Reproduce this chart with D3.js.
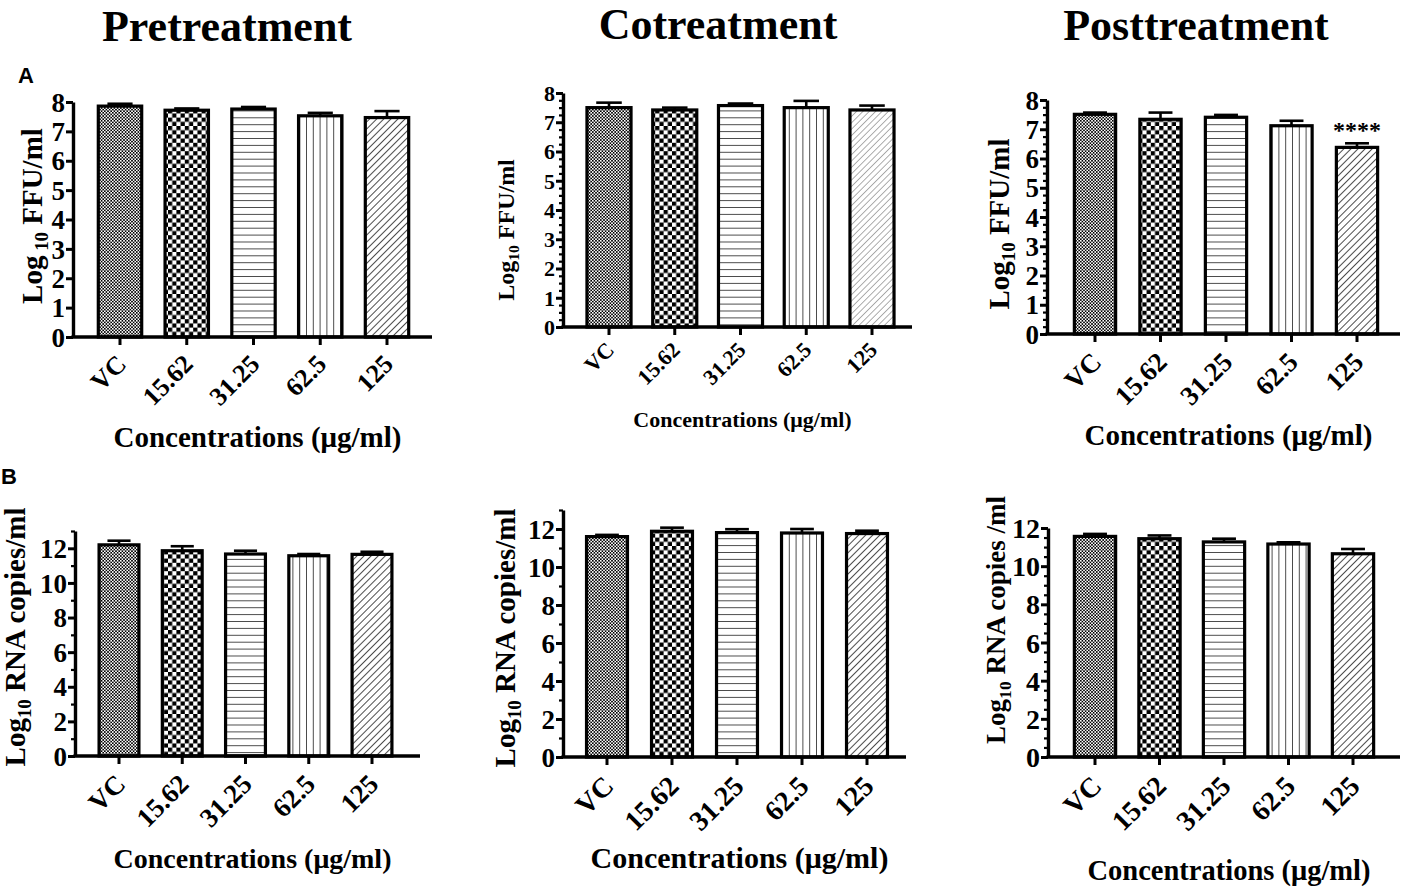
<!DOCTYPE html>
<html>
<head>
<meta charset="utf-8">
<script src="https://cdn.jsdelivr.net/npm/d3@7"></script>
<style>
  body { margin: 0; background: #fff; }
  text { font-family: "Liberation Serif", "Times New Roman", serif; font-weight: bold; fill: #000; }
  .panelLetter { font-family: "Liberation Sans", Arial, sans-serif; }
</style>
</head>
<body>
<div id="chart"></div>
<script>
// categories (concentrations)
var categories = ["VC", "15.62", "31.25", "62.5", "125"];

// row A: Log10 FFU/ml
var preFfu = [7.86, 7.72, 7.76, 7.53, 7.47];
var preFfuErr = [0.08, 0.06, 0.07, 0.10, 0.22];
var coFfu = [7.50, 7.42, 7.57, 7.50, 7.42];
var coFfuErr = [0.17, 0.08, 0.07, 0.23, 0.15];
var postFfu = [7.51, 7.34, 7.41, 7.12, 6.38];
var postFfuErr = [0.06, 0.23, 0.08, 0.17, 0.14];
var postFfuSig = ["", "", "", "", "****"];

// row B: Log10 RNA copies/ml
var preRna = [12.20, 11.86, 11.67, 11.57, 11.65];
var preRnaErr = [0.24, 0.26, 0.19, 0.10, 0.15];
var coRna = [11.60, 11.88, 11.81, 11.79, 11.76];
var coRnaErr = [0.09, 0.19, 0.18, 0.21, 0.15];
var postRna = [11.56, 11.44, 11.27, 11.16, 10.65];
var postRnaErr = [0.13, 0.17, 0.17, 0.09, 0.25];

// tick labels
var ffuTicks = [0, 1, 2, 3, 4, 5, 6, 7, 8];
var rnaTicks = [0, 2, 4, 6, 8, 10, 12];

var titles = ["Pretreatment", "Cotreatment", "Posttreatment"];
var xTitle = "Concentrations (\u03bcg/ml)";

var width = 1403;
var height = 890;

var svg = d3.select("#chart")
  .append("svg")
  .attr("width", width)
  .attr("height", height);

// fill patterns
var defs = svg.append("defs");

function checker(id, cell) {
  var p = defs.append("pattern")
    .attr("id", id)
    .attr("patternUnits", "userSpaceOnUse")
    .attr("width", cell * 2)
    .attr("height", cell * 2);
  p.append("rect").attr("width", cell * 2).attr("height", cell * 2).attr("fill", "#fff");
  p.append("rect").attr("width", cell).attr("height", cell).attr("fill", "#000");
  p.append("rect").attr("x", cell).attr("y", cell).attr("width", cell).attr("height", cell).attr("fill", "#000");
}
checker("fine", 1.6);
checker("coarse", 4.2);

function lines(id, gap, angle, color, sw) {
  var p = defs.append("pattern")
    .attr("id", id)
    .attr("patternUnits", "userSpaceOnUse")
    .attr("width", gap)
    .attr("height", gap)
    .attr("patternTransform", "rotate(" + angle + ")");
  p.append("rect").attr("width", gap).attr("height", gap).attr("fill", "#fff");
  p.append("line")
    .attr("x1", 0).attr("y1", 0).attr("x2", 0).attr("y2", gap)
    .attr("stroke", color)
    .attr("stroke-width", sw);
}
lines("vert", 6.8, 0, "#000", 1.4);
lines("horiz", 6.9, 90, "#000", 1.4);
lines("diag", 5, 45, "#000", 1.4);
lines("diagLight", 4.5, 45, "#777", 1.2);

var fills = ["url(#fine)", "url(#coarse)", "url(#horiz)", "url(#vert)", "url(#diag)"];
var fillsLight = ["url(#fine)", "url(#coarse)", "url(#horiz)", "url(#vert)", "url(#diagLight)"];

// panel layout
var panels = [
  { values: preFfu, errs: preFfuErr, ticks: ffuTicks, max: 8, minor: null,
    left: 73, right: 432, y0: 337, yTop: 102, c0: 120, c4: 387, pad: 0.35,
    tickFont: 27, xFont: 26, titleFont: 29, titleY: 447,
    label: ["Log", " 10", " FFU/ml"], labelFont: 29, labelX: 42, labelY: 216, fill: fills },
  { values: coFfu, errs: coFfuErr, ticks: ffuTicks, max: 8, minor: 0.25,
    left: 563, right: 912, y0: 327, yTop: 93, c0: 609, c4: 872, pad: 0.33,
    tickFont: 22, xFont: 22, titleFont: 22, titleY: 427,
    label: ["Log", "10", " FFU/ml"], labelFont: 24, labelX: 514, labelY: 230, fill: fillsLight },
  { values: postFfu, errs: postFfuErr, ticks: ffuTicks, max: 8, minor: 0.25, sig: postFfuSig,
    left: 1047, right: 1400, y0: 334, yTop: 100, c0: 1095, c4: 1357, pad: 0.37,
    tickFont: 27, xFont: 27, titleFont: 29, titleY: 445,
    label: ["Log", "10", " FFU/ml"], labelFont: 29, labelX: 1009, labelY: 224, fill: fills },
  { values: preRna, errs: preRnaErr, ticks: rnaTicks, max: 13, minor: 1,
    left: 75, right: 420, y0: 756, yTop: 531, c0: 119, c4: 372, pad: 0.37,
    tickFont: 27, xFont: 27, titleFont: 28, titleY: 868,
    label: ["Log", "10", " RNA copies/ml"], labelFont: 29, labelX: 25, labelY: 637, fill: fills },
  { values: coRna, errs: coRnaErr, ticks: rnaTicks, max: 13, minor: 1,
    left: 563, right: 906, y0: 757, yTop: 510, c0: 607, c4: 867, pad: 0.37,
    tickFont: 27, xFont: 28, titleFont: 30, titleY: 868,
    label: ["Log", "10", " RNA copies/ml"], labelFont: 29, labelX: 515, labelY: 638, fill: fills },
  { values: postRna, errs: postRnaErr, ticks: rnaTicks, max: 12, minor: 0.5,
    left: 1048, right: 1400, y0: 757, yTop: 528, c0: 1095, c4: 1353, pad: 0.36,
    tickFont: 28, xFont: 28, titleFont: 28.5, titleY: 880,
    label: ["Log", "10", " RNA copies /ml"], labelFont: 27, labelX: 1005, labelY: 620, fill: fills }
];

panels.forEach(function(p) {
  var step = (p.c4 - p.c0) / 4;
  var x = d3.scaleBand()
    .domain(categories)
    .range([p.c0 - step / 2, p.c4 + step / 2])
    .paddingInner(p.pad)
    .paddingOuter(p.pad / 2);
  var y = d3.scaleLinear()
    .domain([0, p.max])
    .range([p.y0, p.yTop]);

  var g = svg.append("g");

  // bars
  g.selectAll(".bar")
    .data(p.values)
    .enter()
    .append("rect")
    .attr("class", "bar")
    .attr("x", function(d, i) { return x(categories[i]); })
    .attr("y", function(d) { return y(d); })
    .attr("width", x.bandwidth())
    .attr("height", function(d) { return p.y0 - y(d); })
    .attr("fill", function(d, i) { return p.fill[i]; })
    .attr("stroke", "#000")
    .attr("stroke-width", 3.2);

  // error bars (upper only)
  var capW = Math.min(26, x.bandwidth() * 0.58);
  p.values.forEach(function(v, i) {
    var cx = x(categories[i]) + x.bandwidth() / 2;
    g.append("line")
      .attr("x1", cx).attr("x2", cx)
      .attr("y1", y(v)).attr("y2", y(v + p.errs[i]))
      .attr("stroke", "#000").attr("stroke-width", 2.6);
    g.append("line")
      .attr("x1", cx - capW / 2).attr("x2", cx + capW / 2)
      .attr("y1", y(v + p.errs[i])).attr("y2", y(v + p.errs[i]))
      .attr("stroke", "#000").attr("stroke-width", 2.6);
    if (p.sig && p.sig[i]) {
      g.append("text")
        .attr("x", cx)
        .attr("y", y(v + p.errs[i]) - 5)
        .attr("text-anchor", "middle")
        .attr("font-size", 24)
        .text(p.sig[i]);
    }
  });

  // y axis
  if (p.minor) {
    var minorVals = d3.range(0, p.max + 1e-9, p.minor).filter(function(v) {
      return p.ticks.indexOf(v) < 0;
    });
    g.append("g")
      .attr("transform", "translate(" + p.left + ",0)")
      .call(d3.axisLeft(y).tickValues(minorVals).tickFormat("").tickSize(4).tickSizeOuter(0))
      .call(function(a) {
        a.select(".domain").remove();
        a.selectAll("line").attr("stroke-width", 2.2);
      });
  }
  var yAxis = g.append("g")
    .attr("transform", "translate(" + p.left + ",0)")
    .call(d3.axisLeft(y).tickValues(p.ticks).tickSize(7).tickSizeOuter(0).tickPadding(1));
  yAxis.select(".domain").attr("stroke-width", 3.4);
  yAxis.selectAll(".tick line").attr("stroke-width", 3);
  yAxis.selectAll(".tick text")
    .attr("font-size", p.tickFont)
    .attr("font-family", "Liberation Serif, serif")
    .attr("font-weight", "bold")
    .attr("dy", "0.34em");

  // x axis line
  g.append("line")
    .attr("x1", p.left - 1.5).attr("x2", p.right)
    .attr("y1", p.y0).attr("y2", p.y0)
    .attr("stroke", "#000").attr("stroke-width", 3.6);

  var xAxis = g.append("g")
    .attr("transform", "translate(0," + p.y0 + ")")
    .call(d3.axisBottom(x).tickSize(8).tickSizeOuter(0).tickPadding(0));
  xAxis.select(".domain").remove();
  xAxis.selectAll(".tick line").attr("stroke-width", 3);
  xAxis.selectAll(".tick text")
    .attr("font-size", p.xFont)
    .attr("font-family", "Liberation Serif, serif")
    .attr("font-weight", "bold")
    .attr("text-anchor", "end")
    .attr("dy", 0)
    .attr("y", 0)
    .attr("transform", "translate(" + (p.xFont * 0.3) + "," + (p.xFont * 1.1) + ") rotate(-45)");

  // x title
  g.append("text")
    .attr("x", (p.left + p.right) / 2 + 5)
    .attr("y", p.titleY)
    .attr("text-anchor", "middle")
    .attr("font-size", p.titleFont)
    .text(xTitle);

  // y title
  var yl = g.append("text")
    .attr("transform", "translate(" + p.labelX + "," + p.labelY + ") rotate(-90)")
    .attr("text-anchor", "middle")
    .attr("font-size", p.labelFont);
  yl.append("tspan").text(p.label[0]);
  yl.append("tspan").attr("font-size", p.labelFont * 0.65).attr("dy", p.labelFont * 0.22).text(p.label[1]);
  yl.append("tspan").attr("dy", -p.labelFont * 0.22).text(p.label[2]);
});

// column titles
var titleX = [227, 718, 1196];
var titleY = [41, 39, 40];
svg.selectAll(".colTitle")
  .data(titles)
  .enter()
  .append("text")
  .attr("class", "colTitle")
  .attr("x", function(d, i) { return titleX[i]; })
  .attr("y", function(d, i) { return titleY[i]; })
  .attr("text-anchor", "middle")
  .attr("font-size", 44)
  .text(function(d) { return d; });

// panel letters
svg.append("text").attr("class", "panelLetter").attr("x", 18).attr("y", 83).attr("font-size", 22).text("A");
svg.append("text").attr("class", "panelLetter").attr("x", 1).attr("y", 484).attr("font-size", 22).text("B");
</script>
</body>
</html>
